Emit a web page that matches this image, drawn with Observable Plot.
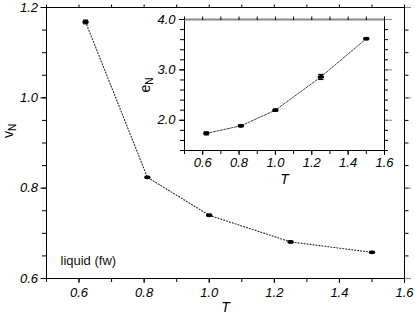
<!DOCTYPE html>
<html><head><meta charset="utf-8">
<script src="https://cdn.jsdelivr.net/npm/d3@7"></script>
<script src="https://cdn.jsdelivr.net/npm/@observablehq/plot@0.6"></script>
<style>
body{margin:0;background:#fff}
#wrap{position:relative;width:415px;height:313px;background:#fff}
#wrap svg{position:absolute;left:0;top:0;max-width:none}
</style></head><body><div id="wrap"></div>
<script>
// Data
const temps = [0.62, 0.81, 1.0, 1.25, 1.5];
const vN = [1.168, 0.824, 0.74, 0.681, 0.658];
const vErr = [0.004, 0.002, 0.002, 0.002, 0.002];
const eN = [1.74, 1.89, 2.20, 2.86, 3.62];
const eErr = [0.03, 0.02, 0.02, 0.05, 0.02];
const mainXTicks = [0.6, 0.8, 1.0, 1.2, 1.4, 1.6];
const mainYTicks = [0.6, 0.8, 1.0, 1.2];
const insetXTicks = [0.6, 0.8, 1.0, 1.2, 1.4, 1.6];
const insetYTicks = [2.0, 3.0, 4.0];
const annotation = "liquid (fw)";

const mainData = temps.map((t, i) => ({T: t, v: vN[i], lo: vN[i] - vErr[i], hi: vN[i] + vErr[i]}));
const insetData = temps.map((t, i) => ({T: t, e: eN[i], lo: eN[i] - eErr[i], hi: eN[i] + eErr[i]}));

const xMinor = d3.range(5, 17).map(d => d / 10);
const yMinorMain = d3.range(12, 25).map(d => d / 20);
const yMinorInset = d3.range(7, 21).map(d => d / 5);

const ellipse = {draw(ctx) {
  const a = 3.3, b = 1.9, k = 0.5523;
  ctx.moveTo(a, 0);
  ctx.bezierCurveTo(a, b * k, a * k, b, 0, b);
  ctx.bezierCurveTo(-a * k, b, -a, b * k, -a, 0);
  ctx.bezierCurveTo(-a, -b * k, -a * k, -b, 0, -b);
  ctx.bezierCurveTo(a * k, -b, a, -b * k, a, 0);
  ctx.closePath();
}};
const cap = {draw(ctx) { ctx.moveTo(-2.6, 0); ctx.lineTo(2.6, 0); }};
const fmt = d => d.toFixed(1);
const blank = () => "";
const font = "'Liberation Sans', Arial, Helvetica, sans-serif";

const main = Plot.plot({
  width: 415, height: 313,
  marginLeft: 46, marginRight: 11, marginTop: 7, marginBottom: 35,
  x: {domain: [0.5, 1.6]},
  y: {domain: [0.6, 1.2]},
  style: {fontFamily: font, fontSize: "13px", background: "transparent", color: "#000", overflow: "visible"},
  marks: [
    Plot.axisX({ticks: xMinor, tickFormat: blank, tickSize: 4, label: null}),
    Plot.axisX({ticks: mainXTicks, tickFormat: fmt, tickSize: 5, tickPadding: 4, label: null, fontStyle: "italic", fontSize: 13}),
    Plot.axisX({anchor: "top", ticks: xMinor, tickFormat: blank, tickSize: 3.5, label: null}),
    Plot.axisY({ticks: yMinorMain, tickFormat: blank, tickSize: 4, label: null}),
    Plot.axisY({ticks: mainYTicks, tickFormat: fmt, tickSize: 5.5, tickPadding: 3, label: null, fontStyle: "italic", fontSize: 13}),
    Plot.axisY({anchor: "right", ticks: yMinorMain, tickFormat: blank, tickSize: 3.5, label: null}),
    Plot.axisY({anchor: "right", ticks: mainYTicks, tickFormat: blank, tickSize: 6, stroke: "#888", label: null}),
    Plot.frame({stroke: "#000", strokeWidth: 1}),
    Plot.line(mainData, {x: "T", y: "v", stroke: "#222", strokeWidth: 1.1, strokeDasharray: "1,2"}),
    Plot.ruleX(mainData, {x: "T", y1: "lo", y2: "hi", stroke: "#000", strokeWidth: 1.2}),
    Plot.dot(mainData, {x: "T", y: "lo", symbol: cap, stroke: "#000", fill: "none", strokeWidth: 1.2, r: 3}),
    Plot.dot(mainData, {x: "T", y: "hi", symbol: cap, stroke: "#000", fill: "none", strokeWidth: 1.2, r: 3}),
    Plot.dot(mainData, {x: "T", y: "v", symbol: ellipse, fill: "#000", stroke: "none", r: 3}),
    Plot.text([annotation], {frameAnchor: "bottom-left", dx: 14, dy: -13.5, textAnchor: "start", lineAnchor: "bottom", fontSize: 13, fill: "#111"}),
    Plot.text(["T"], {frameAnchor: "bottom", dy: 33, lineAnchor: "bottom", fontSize: 14, fontStyle: "italic"})
  ]
});

const inset = Plot.plot({
  width: 415, height: 313,
  marginLeft: 184, marginRight: 31, marginTop: 19, marginBottom: 163,
  x: {domain: [0.5, 1.6]},
  y: {domain: [1.4, 4.0]},
  style: {fontFamily: font, fontSize: "13px", background: "transparent", color: "#000", overflow: "visible"},
  marks: [
    Plot.frame({fill: "#fff", stroke: "#000", strokeWidth: 1}),
    Plot.ruleY([4.0], {stroke: "#8c8c8c", strokeWidth: 2.2}),
    Plot.axisX({ticks: xMinor, tickFormat: blank, tickSize: 4, label: null}),
    Plot.axisX({ticks: insetXTicks, tickFormat: fmt, tickSize: 5, tickPadding: 2, label: null, fontStyle: "italic", fontSize: 13}),
    Plot.axisX({anchor: "top", ticks: xMinor, tickFormat: blank, tickSize: 3.5, label: null}),
    Plot.axisY({ticks: yMinorInset, tickFormat: blank, tickSize: 4, label: null}),
    Plot.axisY({ticks: insetYTicks, tickFormat: fmt, tickSize: 5, tickPadding: 4, label: null, fontStyle: "italic", fontSize: 13}),
    Plot.axisY({anchor: "right", ticks: yMinorInset, tickFormat: blank, tickSize: 3, label: null}),
    Plot.axisY({anchor: "right", ticks: insetYTicks, tickFormat: blank, tickSize: 7, stroke: "#888", label: null}),
    Plot.line(insetData, {x: "T", y: "e", stroke: "#444", strokeWidth: 1, strokeDasharray: "2.2,1.4"}),
    Plot.ruleX(insetData, {x: "T", y1: "lo", y2: "hi", stroke: "#000", strokeWidth: 1.2}),
    Plot.dot(insetData, {x: "T", y: "lo", symbol: cap, stroke: "#000", fill: "none", strokeWidth: 1.2, r: 3}),
    Plot.dot(insetData, {x: "T", y: "hi", symbol: cap, stroke: "#000", fill: "none", strokeWidth: 1.2, r: 3}),
    Plot.dot(insetData, {x: "T", y: "e", symbol: ellipse, fill: "#000", stroke: "none", r: 3}),
    Plot.text(["T"], {frameAnchor: "bottom", dy: 33, lineAnchor: "bottom", fontSize: 14, fontStyle: "italic"})
  ]
});

const wrap = document.getElementById("wrap");
wrap.appendChild(main);
wrap.appendChild(inset);

function subLabel(svg, base, sub, x, y) {
  const t = d3.select(svg).append("text")
    .attr("transform", `translate(${x},${y}) rotate(-90)`)
    .attr("text-anchor", "middle")
    .attr("font-family", font)
    .attr("font-size", 14)
    .attr("fill", "#000");
  t.append("tspan").text(base);
  t.append("tspan").attr("font-size", 10).attr("dy", 3).text(sub);
}
subLabel(main, "v", "N", 13, 131);
subLabel(inset, "e", "N", 150, 85);
</script>
</body></html>
